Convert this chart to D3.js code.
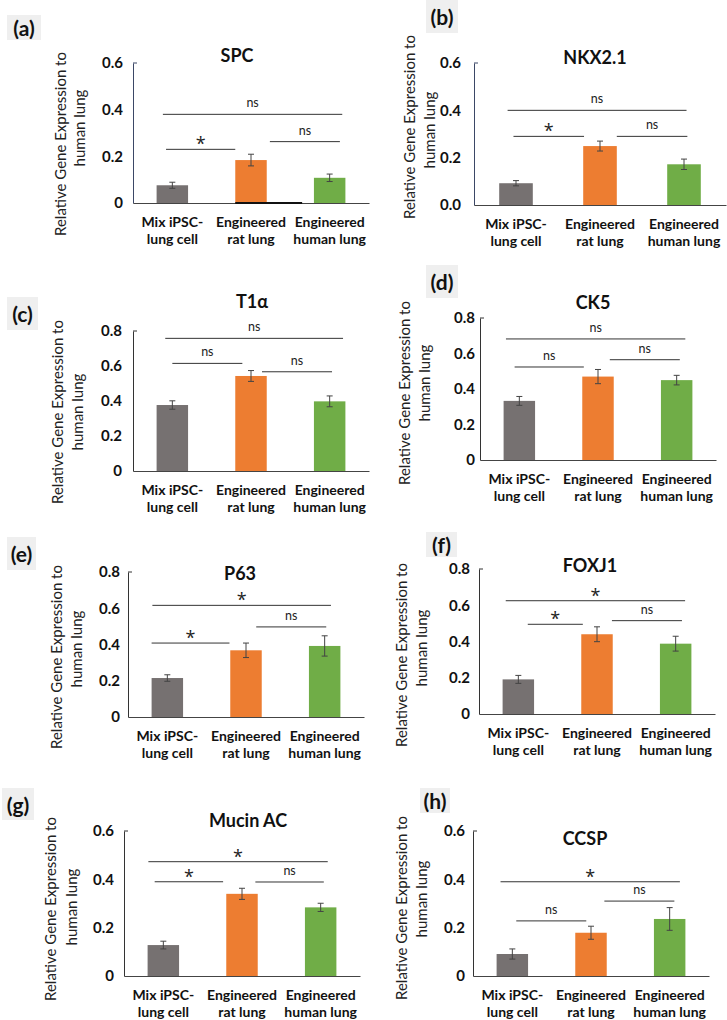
<!DOCTYPE html>
<html><head><meta charset="utf-8">
<script src="https://cdn.jsdelivr.net/npm/d3@7"></script>
<style>body{margin:0;background:#fff} svg{display:block}</style></head>
<body>
<svg id="c" width="727" height="1020"></svg>
<script>
// ---------- DATA ----------
const categories = [["Mix iPSC-", "lung cell"], ["Engineered", "rat lung"], ["Engineered", "human lung"]];
const panelLetters = ["(a)", "(b)", "(c)", "(d)", "(e)", "(f)", "(g)", "(h)"];
const genes = ["SPC", "NKX2.1", "T1\u03B1", "CK5", "P63", "FOXJ1", "Mucin AC", "CCSP"];
const yMax = [0.6, 0.6, 0.8, 0.8, 0.8, 0.8, 0.6, 0.6];
const tickLabels = [
  ["0", "0.2", "0.4", "0.6"],
  ["0.0", "0.2", "0.4", "0.6"],
  ["0", "0.2", "0.4", "0.6", "0.8"],
  ["0", "0.2", "0.4", "0.6", "0.8"],
  ["0", "0.2", "0.4", "0.6", "0.8"],
  ["0", "0.2", "0.4", "0.6", "0.8"],
  ["0", "0.2", "0.4", "0.6"],
  ["0", "0.2", "0.4", "0.6"]
];
const means = [
  [0.076, 0.184, 0.108],
  [0.092, 0.249, 0.172],
  [0.377, 0.543, 0.398],
  [0.333, 0.470, 0.450],
  [0.215, 0.368, 0.392],
  [0.191, 0.440, 0.388],
  [0.128, 0.340, 0.284],
  [0.091, 0.179, 0.236]
];
const errors = [
  [0.013, 0.025, 0.016],
  [0.011, 0.021, 0.022],
  [0.024, 0.031, 0.031],
  [0.025, 0.040, 0.027],
  [0.018, 0.040, 0.056],
  [0.022, 0.041, 0.041],
  [0.016, 0.023, 0.017],
  [0.021, 0.027, 0.047]
];
// significance brackets: [top (first vs last), left (first vs second), right (second vs last)]
const sigLabels = [
  ["ns", "*", "ns"], ["ns", "*", "ns"], ["ns", "ns", "ns"], ["ns", "ns", "ns"],
  ["*", "*", "ns"], ["*", "*", "ns"], ["*", "*", "ns"], ["*", "ns", "ns"]
];
const sigLevels = [
  [0.38, 0.23, 0.263],
  [0.40, 0.29, 0.29],
  [0.758, 0.615, 0.567],
  [0.682, 0.524, 0.565],
  [0.616, 0.408, 0.497],
  [0.625, 0.495, 0.515],
  [0.473, 0.39, 0.389],
  [0.39, 0.228, 0.31]
];
// bracket ends, in category units (0 = first bar centre, 1 = second, 2 = third)
const sigSpans = [
  [[-0.12, 2.16], [-0.08, 0.80], [1.24, 2.13]],
  [[-0.10, 2.03], [-0.03, 0.81], [1.20, 2.04]],
  [[-0.09, 2.17], [0.00, 0.89], [1.14, 2.03]],
  [[-0.17, 2.11], [-0.06, 0.82], [1.15, 2.04]],
  [[-0.19, 2.08], [-0.20, 0.79], [1.13, 2.02]],
  [[-0.16, 2.12], [0.12, 0.82], [1.19, 2.08]],
  [[-0.19, 2.09], [-0.11, 0.76], [1.17, 2.04]],
  [[-0.15, 2.13], [0.05, 0.94], [1.17, 2.06]]
];
const barColors = ["#767171", "#ED7D31", "#70AD47"];
const yLabel = ["Relative Gene Expression to", "human lung"];

// ---------- LAYOUT ----------
const layout = [
  {x0: 133, x1: 369, yTop: 63, y0: 203, gap: 10, title: [237, 55], box: [7, 15, 34, 25], yl: [[60, 144], [79, 128]], axisCol: "#3b4766"},
  {x0: 474, x1: 726, yTop: 63, y0: 205, gap: 13, title: [595, 57], box: [426, 0, 32, 33], yl: [[409, 127], [429, 130]], axisCol: "#3b4766"},
  {x0: 133, x1: 369, yTop: 331, y0: 471, gap: 11, title: [252, 301], box: [7, 297, 31, 33], yl: [[57, 412], [77, 412]], axisCol: "#333"},
  {x0: 480, x1: 716, yTop: 318, y0: 460, gap: 5, title: [593, 302], box: [426, 265, 32, 33], yl: [[404, 393], [424, 383]], axisCol: "#333"},
  {x0: 128, x1: 364, yTop: 572, y0: 717, gap: 8, title: [240, 573], box: [7, 537, 29, 33], yl: [[56, 657], [76, 649]], axisCol: "#333"},
  {x0: 479, x1: 715, yTop: 569, y0: 714, gap: 9, title: [590, 565], box: [426, 532, 31, 25], yl: [[401, 655], [421, 648]], axisCol: "#333"},
  {x0: 124, x1: 360, yTop: 831, y0: 976, gap: 10, title: [248, 820], box: [2, 788, 32, 32], yl: [[50, 909], [71, 907]], axisCol: "#333"},
  {x0: 473, x1: 709, yTop: 831, y0: 976, gap: 8, title: [585, 838], box: [420, 788, 30, 25], yl: [[401, 908], [421, 899]], axisCol: "#333"}
];
// stray dark stroke on the baseline of panel (a), in category units
const baselineMarks = [{panel: 0, from: 0.80, to: 1.65}];

const FONT = "Lato, 'Open Sans', sans-serif";
const svg = d3.select("#c");

layout.forEach((L, i) => {
  const g = svg.append("g");
  const y = d3.scaleLinear().domain([0, yMax[i]]).range([L.y0, L.yTop]);
  const xb = d3.scaleBand().domain([0, 1, 2]).range([L.x0, L.x1]).paddingInner(0.6).paddingOuter(0.3);
  const bw = xb.bandwidth();
  const cx = d3.scaleLinear().domain([0, 1]).range([xb(0) + bw / 2, xb(1) + bw / 2]);

  // panel letter
  g.append("rect").attr("x", L.box[0]).attr("y", L.box[1]).attr("width", L.box[2]).attr("height", L.box[3]).attr("fill", "#efefef");
  g.append("text").attr("x", L.box[0] + L.box[2] / 2).attr("y", L.box[1] + L.box[3] / 2)
    .attr("text-anchor", "middle").attr("dominant-baseline", "central")
    .style("font", `bold 21px ${FONT}`).attr("fill", "#111").text(panelLetters[i]);

  // title
  g.append("text").attr("x", L.title[0]).attr("y", L.title[1]).attr("text-anchor", "middle").attr("dominant-baseline", "central")
    .style("font", `bold 18px ${FONT}`).attr("fill", "#111").text(genes[i]);

  // y label
  yLabel.forEach((t, k) => {
    g.append("text").attr("transform", `translate(${L.yl[k][0]},${L.yl[k][1]}) rotate(-90)`)
      .attr("text-anchor", "middle").attr("dominant-baseline", "central")
      .style("font", `15px ${FONT}`).attr("fill", "#222").text(t);
  });

  // bars
  g.selectAll("rect.bar").data(means[i]).enter().append("rect").attr("class", "bar")
    .attr("x", (d, k) => xb(k)).attr("width", bw)
    .attr("y", d => y(d)).attr("height", d => L.y0 - y(d))
    .attr("fill", (d, k) => barColors[k]);

  // error bars
  means[i].forEach((m, k) => {
    const e = errors[i][k], x = cx(k);
    g.append("line").attr("x1", x).attr("x2", x).attr("y1", y(m - e)).attr("y2", y(m + e)).attr("stroke", "#444").attr("stroke-width", 1);
    [m - e, m + e].forEach(v => g.append("line").attr("x1", x - 3).attr("x2", x + 3).attr("y1", y(v)).attr("y2", y(v)).attr("stroke", "#444").attr("stroke-width", 1));
  });

  // y axis
  const yTickVals = tickLabels[i].map(Number);
  const ya = g.append("g").attr("transform", `translate(${L.x0},0)`)
    .call(d3.axisLeft(y).tickValues(yTickVals).tickSize(0).tickSizeOuter(0).tickPadding(L.gap)
      .tickFormat((d, j) => tickLabels[i][j]));
  ya.select(".domain").attr("stroke", L.axisCol).attr("stroke-width", 1);
  ya.selectAll("text").style("font", `bold 15px ${FONT}`).attr("fill", "#111");
  g.append("line").attr("x1", L.x0).attr("x2", L.x0 + 4).attr("y1", y(yMax[i])).attr("y2", y(yMax[i])).attr("stroke", L.axisCol);

  // x axis
  const xa = g.append("g").attr("transform", `translate(0,${L.y0})`)
    .call(d3.axisBottom(xb).tickSize(0).tickSizeOuter(0).tickFormat(""));
  xa.select(".domain").attr("stroke", "#444").attr("stroke-width", 1.2);

  // category labels
  categories.forEach((c, k) => {
    c.forEach((t, r) => {
      g.append("text").attr("x", cx(k)).attr("y", L.y0 + 24 + r * 17).attr("text-anchor", "middle")
        .style("font", `bold 14px ${FONT}`).attr("fill", "#111").text(t);
    });
  });

  // significance brackets
  sigLabels[i].forEach((lab, k) => {
    const [a, b] = sigSpans[i][k];
    const yy = y(sigLevels[i][k]);
    g.append("line").attr("x1", cx(a)).attr("x2", cx(b)).attr("y1", yy).attr("y2", yy).attr("stroke", "#333").attr("stroke-width", 1);
    const star = lab === "*";
    g.append("text").attr("x", (cx(a) + cx(b)) / 2).attr("y", star ? yy + 1 : yy - 7)
      .attr("text-anchor", "middle")
      .style("font", star ? `18px 'Open Sans', sans-serif` : `12.5px ${FONT}`).attr("fill", "#222").text(lab);
  });
});

baselineMarks.forEach(m => {
  const L = layout[m.panel];
  const xb = d3.scaleBand().domain([0, 1, 2]).range([L.x0, L.x1]).paddingInner(0.6).paddingOuter(0.3);
  const cx = d3.scaleLinear().domain([0, 1]).range([xb(0) + xb.bandwidth() / 2, xb(1) + xb.bandwidth() / 2]);
  svg.append("line").attr("x1", cx(m.from)).attr("x2", cx(m.to)).attr("y1", L.y0).attr("y2", L.y0).attr("stroke", "#111").attr("stroke-width", 2.2);
});
</script>
</body></html>
